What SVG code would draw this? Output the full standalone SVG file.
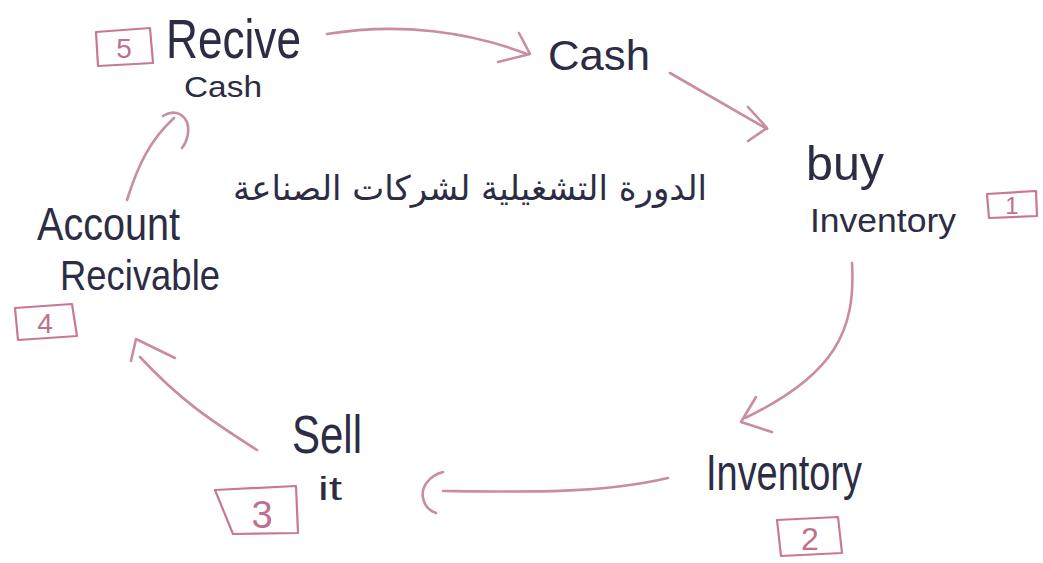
<svg xmlns="http://www.w3.org/2000/svg" width="1043" height="563" viewBox="0 0 1043 563">
<style>
.t{font-family:"Liberation Sans",Arial,sans-serif;fill:#2c2c44;}
.ar{font-family:"DejaVu Sans","Noto Sans",sans-serif;fill:#2c2c44;}
.c{fill:none;stroke:#c98ca3;stroke-width:2.6;stroke-linecap:round;stroke-linejoin:round;}
.bx{fill:none;stroke:#c87896;stroke-width:2.2;stroke-linejoin:round;}
.n{font-family:"Liberation Sans",Arial,sans-serif;fill:#c0708e;text-anchor:middle;}
</style>
<rect width="1043" height="563" fill="#ffffff"/>
<g id="connectors">
<path class="c" d="M327,34 C400,22 470,32 527,54"/>
<path class="c" d="M519,33 L530,54 L498,62"/>
<path class="c" d="M670,73 L767,129"/>
<path class="c" d="M748,107 L767,128 L748,141"/>
<path class="c" d="M852,263 C856,330 835,375 745,418"/>
<path class="c" d="M756,397 L741,422 L772,432"/>
<path class="c" d="M668,478 C600,494 520,492 443,491"/>
<path class="c" d="M443,472 C428,476 421,488 423,498 C425,507 430,511 436,513"/>
<path class="c" d="M257,450 C210,420 180,400 140,357"/>
<path class="c" d="M175,358 L136,339 L131,361"/>
<path class="c" d="M127,200 C138,165 150,140 174,118"/>
<path class="c" d="M163,116 C172,110 182,112 187,122 C190,131 187,142 182,148"/>
</g>
<g id="node-recive-cash">
<text class="t" x="166" y="58" font-size="56" textLength="135" lengthAdjust="spacingAndGlyphs">Recive</text>
<text class="t" x="184" y="97" font-size="30" textLength="78" lengthAdjust="spacingAndGlyphs">Cash</text>
</g>
<g id="badge-5">
<path class="bx" d="M96,32 L150,28 L153,63 L98,66 Z"/>
<text class="n" x="124" y="58" font-size="28">5</text>
</g>
<g id="node-cash">
<text class="t" x="548" y="70" font-size="42" textLength="102" lengthAdjust="spacingAndGlyphs">Cash</text>
</g>
<g id="node-buy-inventory">
<text class="t" x="806" y="180" font-size="48" textLength="78" lengthAdjust="spacingAndGlyphs">buy</text>
<text class="t" x="810" y="232" font-size="34" textLength="146" lengthAdjust="spacingAndGlyphs">Inventory</text>
</g>
<g id="badge-1">
<path class="bx" d="M987,194 L1036,191 L1037,216 L989,218 Z"/>
<text class="n" x="1012" y="214" font-size="24">1</text>
</g>
<g id="node-inventory">
<text class="t" x="706" y="490" font-size="50" textLength="156" lengthAdjust="spacingAndGlyphs">Inventory</text>
</g>
<g id="badge-2">
<path class="bx" d="M777,520 L838,517 L842,553 L781,556 Z"/>
<text class="n" x="810" y="550" font-size="32">2</text>
</g>
<g id="node-sell-it">
<text class="t" x="292" y="453" font-size="54" textLength="70" lengthAdjust="spacingAndGlyphs">Sell</text>
<text class="t" x="318" y="500" font-size="34" textLength="24" lengthAdjust="spacingAndGlyphs">it</text>
</g>
<g id="badge-3">
<path class="bx" d="M215,490 L296,486 L298,533 L233,534 Z"/>
<text class="n" x="262" y="528" font-size="38">3</text>
</g>
<g id="node-account-receivable">
<text class="t" x="37" y="240" font-size="46" textLength="143" lengthAdjust="spacingAndGlyphs">Account</text>
<text class="t" x="60" y="290" font-size="42" textLength="160" lengthAdjust="spacingAndGlyphs">Recivable</text>
</g>
<g id="badge-4">
<path class="bx" d="M15,308 L72,304 L77,336 L18,340 Z"/>
<text class="n" x="45" y="333" font-size="28">4</text>
</g>
<g id="title">
<text class="ar" x="470" y="200" font-size="34" text-anchor="middle" direction="rtl">الدورة التشغيلية لشركات الصناعة</text>
</g>
</svg>
